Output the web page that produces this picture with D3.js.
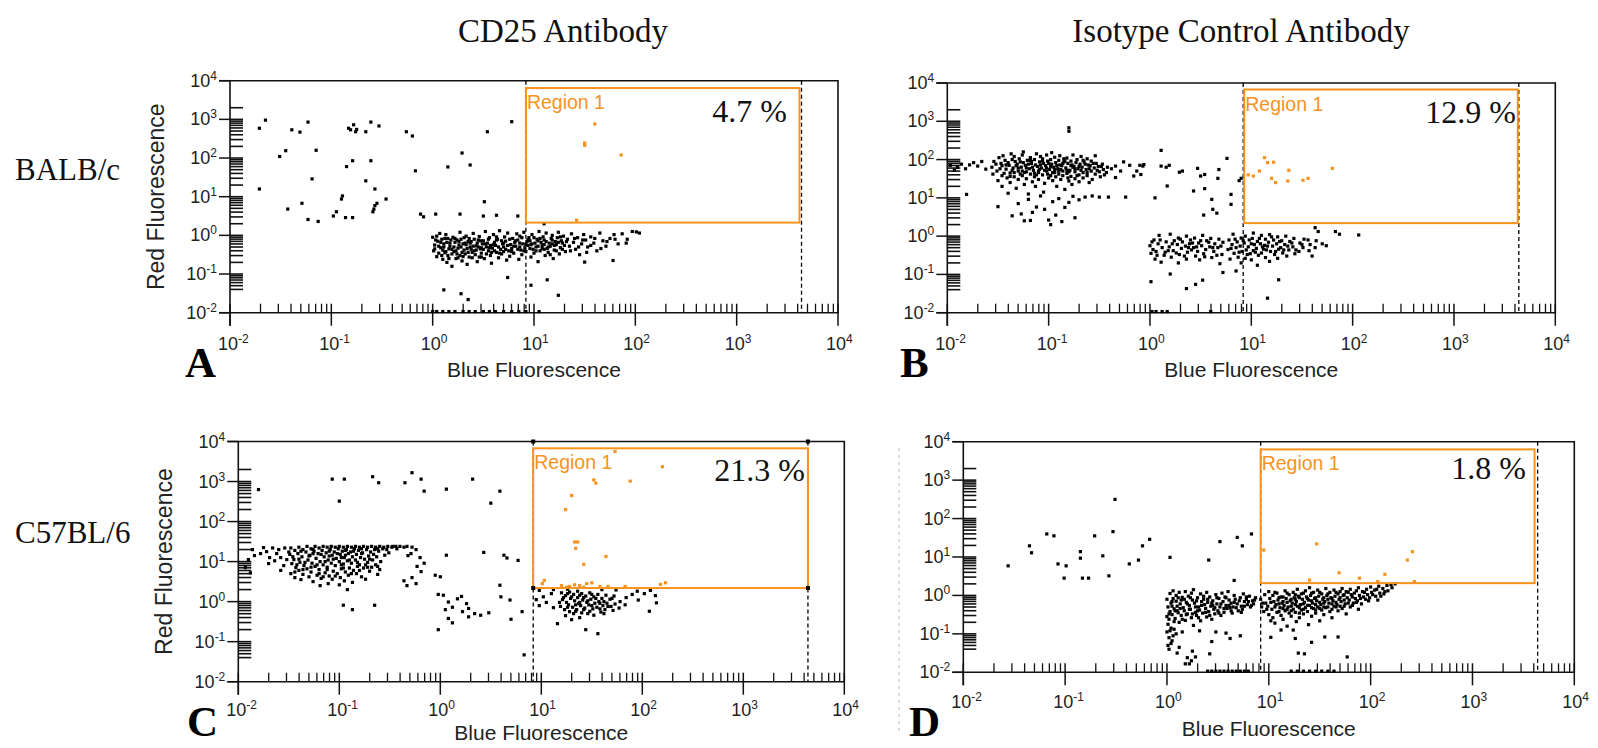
<!DOCTYPE html>
<html>
<head>
<meta charset="utf-8">
<title>CD25 vs isotype control - flow cytometry</title>
<script src="https://cdn.jsdelivr.net/npm/d3@7"></script>
<style>
  body { margin: 0; background: #fff; }
  svg { display: block; }
</style>
</head>
<body>
<svg id="chart" width="1598" height="748"></svg>
<script>
// ---- data -------------------------------------------------------------
// every event is [log10 blue, log10 red]
const strains = ["BALB/c", "C57BL/6"];
const antibodies = ["CD25 Antibody", "Isotype Control Antibody"];
const panelLetters = ["A", "B", "C", "D"];
const regionPercent = ["4.7 %", "12.9 %", "21.3 %", "1.8 %"];
const decades = [-2, -1, 0, 1, 2, 3, 4];
const markerBlue = [0.92, 3.64];              // dashed marker lines (log10 blue)
// Region 1: [blue min, blue max, red min, red max] in log10
const regions = [[0.92, 3.62, 0.33, 3.81], [0.93, 3.63, 0.34, 3.83],
                 [0.92, 3.64, 0.34, 3.83], [0.92, 3.61, 0.32, 3.80]];

const aScatter = [-1.71,2.77, -1.65,2.98, -1.51,2.04, -1.45,2.19, -1.39,2.73, -1.31,2.67, -1.23,2.93,
  -1.15,2.20, -1.19,1.46, -1.71,1.20, -1.43,0.68, -1.29,0.83, -1.23,0.41, -1.13,0.36, -0.98,0.50,
  -0.95,0.61, -0.90,0.94, -0.89,1.02, -0.86,0.46, -0.85,1.78, -0.79,1.93, -0.83,2.77, -0.81,2.73,
  -0.78,2.86, -0.76,2.68, -0.75,2.74, -0.66,2.68, -0.61,2.93, -0.53,2.83, -0.66,1.41, -0.61,1.93,
  -0.57,1.20, -0.46,0.94, -0.55,0.83, -0.59,0.61, -0.58,0.68, -0.57,0.77, -0.79,0.46,
  -0.26,2.68, -0.20,2.57, -0.17,1.67, 0.15,1.77, 0.29,2.13, 0.37,1.82, 0.54,2.68, 0.78,2.94,
  -0.12,0.55, -0.09,0.48, 0.03,0.55, 0.27,0.55, 0.51,0.87, 0.50,0.50, 0.63,0.52, 0.84,0.50, 1.10,0.30,
  0.11,-1.41, 0.28,-1.51, 0.35,-1.66, 0.97,-1.29, 1.24,-1.55, 1.13,-1.15, 0.74,-1.09, 1.78,-0.65,
  1.50,-0.69, 2.01,0.09, 1.91,-0.20,
  1.60,2.88, 1.50,2.39, 1.50,2.33, 1.86,2.08, 1.42,0.39];
const aCluster = [0.00,-0.05, 0.02,-0.25, 0.01,-0.40, 0.05,-0.15, 0.04,-0.55, 0.07,0.05, 0.08,-0.32,
  0.10,-0.62, 0.09,-0.10, 0.12,-0.45, 0.11,-0.22, 0.14,-0.70, 0.13,0.02, 0.16,-0.35, 0.15,-0.52,
  0.18,-0.12, 0.17,-0.28, 0.19,-0.80, 0.21,-0.42, 0.20,-0.05, 0.23,-0.60, 0.22,-0.18, 0.25,-0.33,
  0.24,-0.48, 0.27,0.08, 0.26,-0.25, 0.29,-0.66, 0.28,-0.10, 0.31,-0.38, 0.30,-0.55, 0.33,-0.02,
  0.32,-0.20, 0.35,-0.44, 0.34,-0.75, 0.37,-0.30, 0.36,-0.08, 0.39,-0.58, 0.38,-0.16, 0.41,-0.40,
  0.40,0.05, 0.43,-0.27, 0.42,-0.50, 0.45,-0.12, 0.44,-0.68, 0.47,-0.35, 0.46,-0.03, 0.49,-0.22,
  0.48,-0.46, 0.51,-0.60, 0.50,-0.14, 0.53,-0.30, 0.52,0.10, 0.55,-0.40, 0.54,-0.20, 0.57,-0.52,
  0.56,-0.06, 0.59,-0.33, 0.58,-0.72, 0.61,-0.18, 0.60,0.02, 0.63,-0.44, 0.62,-0.26, 0.65,-0.58,
  0.64,-0.10, 0.67,-0.36, 0.66,0.12, 0.69,-0.22, 0.68,-0.48, 0.71,-0.04, 0.70,-0.30, 0.73,-0.64,
  0.72,-0.15, 0.75,-0.40, 0.74,0.06, 0.77,-0.24, 0.76,-0.54, 0.79,-0.08, 0.78,-0.34, 0.81,-0.18,
  0.80,-0.46, 0.83,0.04, 0.82,-0.28, 0.85,-0.62, 0.84,-0.12, 0.87,-0.38, 0.86,-0.02, 0.89,-0.22,
  0.88,-0.50, 0.91,-0.32, 0.90,0.08, 0.93,-0.16, 0.92,-0.42, 0.95,-0.06, 0.94,-0.26, 0.97,-0.56,
  0.96,-0.14, 0.99,-0.36, 0.98,0.02, 1.01,-0.20, 1.00,-0.46, 1.03,-0.10, 1.02,-0.30, 1.05,0.10,
  1.04,-0.68, 1.07,-0.18, 1.06,-0.40, 1.09,-0.04, 1.08,-0.26, 1.11,-0.52, 1.10,-0.12, 1.13,-0.34,
  1.12,0.06, 1.15,-0.20, 1.14,-0.44, 1.17,-0.08, 1.16,-0.28, 1.19,-0.60, 1.18,0.00, 1.21,-0.16,
  1.20,-0.38, 1.23,-0.06, 1.22,-0.24, 1.25,-0.48, 1.24,0.08, 1.27,-0.14, 1.26,-0.32, 1.29,-0.02,
  1.28,-0.20, 1.31,-0.42, 1.33,-0.10, 1.35,-0.28, 1.37,0.04, 1.39,-0.18, 1.41,-0.36, 1.43,-0.06,
  1.45,-0.50, 1.47,-0.22, 1.49,0.02, 1.51,-0.12, 1.53,-0.30, 1.56,-0.04, 1.59,-0.20, 1.62,-0.40,
  1.65,0.06, 1.68,-0.14, 1.71,-0.28, 1.75,-0.08, 1.79,0.02, 1.83,-0.22, 1.87,0.04, 1.92,-0.10,
  1.97,0.10, 2.04,0.06,
  0.06,-0.28, 0.14,-0.18, 0.19,-0.36, 0.24,-0.12, 0.29,-0.44, 0.33,-0.24, 0.38,-0.36, 0.44,-0.20,
  0.48,-0.32, 0.03,-0.12, 0.10,-0.38, 0.27,-0.52, 0.35,-0.16, 0.57,-0.26, 0.63,-0.12, 0.70,-0.42,
  0.86,-0.30, 0.97,-0.24, 1.04,-0.14, 1.10,-0.36, 1.18,-0.22, 0.12,-0.08, 0.46,-0.56,
  0.00,-1.97, 0.04,-1.97, 0.10,-1.97, 0.16,-1.97, 0.22,-1.97, 0.30,-1.97, 0.36,-1.97, 0.42,-1.97,
  0.50,-1.97, 0.56,-1.97, 0.62,-1.97, 0.70,-1.97, 0.78,-1.97, 0.85,-1.97, 0.92,-1.97, 1.05,-1.97];
const aFill = [0.02,-0.35, 0.04,-0.02, 0.06,-0.46, 0.08,-0.18, 0.09,-0.52, 0.11,-0.30, 0.13,-0.42,
  0.15,-0.08, 0.16,-0.60, 0.17,-0.20, 0.19,-0.48, 0.21,-0.30, 0.22,-0.08, 0.23,-0.40, 0.25,-0.58,
  0.26,-0.16, 0.28,-0.30, 0.30,-0.22, 0.31,-0.06, 0.32,-0.48, 0.34,-0.34, 0.36,-0.56, 0.37,-0.20,
  0.39,-0.44, 0.40,-0.28, 0.41,-0.10, 0.43,-0.38, 0.45,-0.30, 0.47,-0.14, 0.48,-0.56, 0.50,-0.36,
  0.52,-0.22, 0.53,-0.48, 0.55,-0.10, 0.56,-0.32, 0.58,-0.44, 0.60,-0.24, 0.61,-0.40, 0.63,-0.04,
  0.65,-0.30, 0.66,-0.46, 0.68,-0.14, 0.70,-0.20, 0.72,-0.36, 0.74,-0.26, 0.76,-0.10, 0.78,-0.42,
  0.80,-0.28, 0.82,-0.14, 0.84,-0.36, 0.86,-0.20, 0.88,-0.06, 0.90,-0.40, 0.92,-0.24, 0.94,-0.12,
  0.96,-0.34, 0.98,-0.22, 1.00,-0.06, 1.02,-0.40, 1.04,-0.28, 1.06,-0.08, 1.08,-0.34, 1.10,-0.24,
  1.12,-0.16, 1.14,-0.30, 1.16,-0.50, 1.18,-0.12, 1.20,-0.26, 1.22,-0.40, 1.24,-0.18, 1.26,-0.04,
  1.28,-0.36, 1.30,-0.26, 1.32,-0.16, 1.36,-0.40, 1.40,-0.08, 1.44,-0.30, 1.48,-0.12, 1.52,-0.44,
  1.56,-0.26, 1.60,-0.08, 1.66,-0.34, 1.72,-0.16, 1.80,-0.10];

const bUpper = [-1.55,1.62, -1.56,1.80, -1.54,1.95, -1.50,1.45, -1.51,1.70, -1.49,2.05, -1.52,1.88,
  -1.46,1.58, -1.47,1.90, -1.45,2.10, -1.46,1.30, -1.42,1.75, -1.43,1.98, -1.41,1.52,
  -1.38,1.65, -1.39,1.85, -1.37,2.15, -1.38,1.40, -1.36,2.00, -1.34,1.55, -1.35,1.78, -1.33,1.95,
  -1.34,2.08, -1.32,1.25, -1.30,1.70, -1.31,1.88, -1.29,2.02, -1.30,1.48, -1.28,1.62,
  -1.26,1.58, -1.27,1.80, -1.25,1.92, -1.26,2.12, -1.24,1.35, -1.25,2.20, -1.22,1.68, -1.23,1.85,
  -1.21,1.98, -1.22,1.50, -1.20,1.10, -1.18,1.62, -1.19,1.76, -1.17,1.90, -1.18,2.05, -1.16,1.42,
  -1.17,1.95, -1.14,1.55, -1.15,1.72, -1.13,1.86, -1.14,2.00, -1.12,2.15, -1.13,1.30,
  -1.10,1.66, -1.11,1.82, -1.09,1.94, -1.10,1.48, -1.08,2.08, -1.09,1.75, -1.06,1.60, -1.07,1.78,
  -1.05,1.90, -1.06,2.02, -1.04,1.38, -1.05,1.15, -1.02,1.70, -1.03,1.84, -1.01,1.96, -1.02,2.12,
  -1.00,1.52, -1.01,1.62, -0.98,1.58, -0.99,1.74, -0.97,1.88, -0.98,2.00, -0.96,1.45, -0.97,2.18,
  -0.94,1.66, -0.95,1.80, -0.93,1.92, -0.94,2.06, -0.92,1.30, -0.93,1.55, -0.90,1.62, -0.91,1.76,
  -0.89,1.86, -0.90,1.98, -0.88,1.48, -0.89,2.10, -0.86,1.70, -0.87,1.84, -0.85,1.94, -0.86,1.58,
  -0.84,1.22, -0.85,2.02, -0.82,1.64, -0.83,1.78, -0.81,1.90, -0.82,2.04, -0.80,1.44, -0.81,1.52,
  -0.78,1.56, -0.79,1.72, -0.77,1.86, -0.78,1.96, -0.76,2.12, -0.77,1.35, -0.74,1.68, -0.75,1.82,
  -0.73,1.92, -0.74,1.50, -0.72,2.00, -0.70,1.60, -0.71,1.76, -0.69,1.88, -0.70,1.42, -0.68,2.08,
  -0.66,1.66, -0.67,1.80, -0.65,1.94, -0.66,1.52, -0.62,1.58, -0.63,1.74, -0.61,1.86, -0.62,2.02,
  -0.60,1.40, -0.58,1.70, -0.59,1.84, -0.57,1.48, -0.58,1.96, -0.54,1.62, -0.55,1.78, -0.53,1.90,
  -0.54,2.10, -0.50,1.68, -0.51,1.82, -0.49,1.55, -0.46,1.74, -0.47,1.88, -0.45,1.60, -0.42,1.80,
  -0.43,1.66,
  -1.97,1.85, -1.93,1.72, -1.90,1.80, -1.86,1.88, -1.82,1.76, -1.78,1.86, -1.74,1.92, -1.70,1.83,
  -1.66,1.95, -1.81,1.09, -1.62,1.75,
  -1.40,1.12, -1.30,0.85, -1.27,0.58, -1.20,0.96, -1.16,0.62, -1.12,0.76, -1.08,1.05, -1.04,0.70,
  -1.00,0.42, -0.96,0.90, -0.93,0.55, -0.90,0.98, -0.87,0.38, -0.84,0.75, -0.80,0.88, -0.76,1.04,
  -0.74,0.48, -0.70,0.95, -0.64,1.02, -0.57,1.05, -0.50,1.02, -1.50,0.77, -1.36,0.53, -1.18,0.41,
  -0.98,0.30, -1.24,0.40, -0.41,1.02, -0.24,1.02,
  -0.34,1.83, -0.29,1.70, -0.20,1.85, -0.10,1.85, -0.06,1.87, -0.16,1.57, -0.34,1.53, -0.38,1.76,
  -0.26,1.94, -0.13,1.70, -0.80,2.83, -0.80,2.74,
  0.05,1.00, 0.17,1.31, 0.43,1.18, 0.54,1.24, 0.61,0.96, 0.62,0.70, 0.66,0.60, 0.53,0.55, 0.80,1.09,
  0.80,0.83, 0.90,1.51, 0.76,2.03, 0.67,1.51, 0.29,1.67, -0.07,1.83, 0.16,1.80, -0.09,1.61,
  0.11,1.83, 0.19,1.85, 0.32,1.70, 0.47,1.77, 0.50,1.57, 0.54,1.61, 0.68,1.74, 0.11,2.24, 0.88,1.45,
  1.02,1.57, 1.08,1.70, 1.13,2.05, 1.16,1.92, 1.22,1.93, 1.20,1.51, 1.24,1.40, 1.36,1.44, 1.37,1.72,
  1.51,1.46, 1.56,1.51, 1.80,1.77, 0.97,1.60];
const bLower = [0.00,-0.25, 0.01,-0.45, 0.04,-0.10, 0.03,-0.35, 0.05,-0.60, 0.08,-0.20, 0.07,-0.50,
  0.09,0.02, 0.12,-0.30, 0.11,-0.68, 0.16,-0.15, 0.15,-0.42, 0.20,0.05, 0.19,-0.28, 0.21,-0.55,
  0.24,-0.12, 0.23,-0.38, 0.28,-0.05, 0.27,-0.22, 0.29,-0.48, 0.28,-0.70, 0.32,-0.15, 0.31,-0.32,
  0.36,0.00, 0.35,-0.26, 0.37,-0.42, 0.36,-0.60, 0.40,-0.10, 0.39,-0.20, 0.41,-0.36, 0.44,-0.05,
  0.43,-0.30, 0.45,-0.52, 0.48,-0.18, 0.47,-0.40, 0.49,-0.62, 0.52,0.02, 0.51,-0.25, 0.53,-0.46,
  0.56,-0.12, 0.55,-0.35, 0.60,-0.06, 0.59,-0.28, 0.61,-0.56, 0.64,-0.20, 0.63,-0.40, 0.68,-0.08,
  0.67,-0.30, 0.69,-0.72, 0.72,-0.16, 0.71,-0.48,
  0.78,-0.10, 0.77,-0.35, 0.79,-0.60, 0.82,0.05, 0.81,-0.22, 0.83,-0.45, 0.86,-0.15, 0.85,-0.30,
  0.87,-0.55, 0.90,-0.05, 0.89,-0.26, 0.91,-0.40, 0.90,-0.70, 0.94,0.00, 0.93,-0.18, 0.95,-0.36,
  0.94,-0.58, 0.98,-0.10, 0.97,-0.28, 0.99,-0.46, 1.02,0.08, 1.01,-0.06, 1.03,-0.22, 1.02,-0.38,
  1.00,-0.62, 1.06,-0.14, 1.05,-0.32, 1.07,-0.50, 1.06,-0.76, 1.10,0.02, 1.09,-0.20, 1.11,-0.28,
  1.10,-0.44, 1.14,-0.08, 1.13,-0.24, 1.15,-0.36, 1.14,-0.56, 1.18,0.04, 1.17,-0.16, 1.19,-0.40,
  1.18,-0.66, 1.22,-0.10, 1.21,-0.26, 1.23,-0.48, 1.26,-0.02, 1.25,-0.20, 1.27,-0.34, 1.26,-0.58,
  1.30,-0.12, 1.29,-0.30, 1.31,-0.44, 1.34,0.00, 1.33,-0.22, 1.35,-0.52, 1.38,-0.14, 1.37,-0.36,
  1.42,-0.06, 1.41,-0.28, 1.43,-0.46, 1.48,-0.18, 1.47,-0.40, 1.52,-0.08, 1.51,-0.30, 1.58,-0.22,
  1.57,-0.38, 1.64,-0.12, 1.63,-0.30, 1.70,-0.20,
  0.01,-1.19, 0.20,-0.99, 0.36,-1.37, 0.45,-1.26, 0.52,-1.15, 0.72,-0.95, 0.85,-0.91, 1.27,-1.14,
  1.16,-1.62, 1.60,-0.52, 1.63,0.22, 1.66,0.12, 1.83,0.12, 1.87,0.05, 2.06,0.03, 1.74,-0.25,
  0.02,-1.97, 0.06,-1.97, 0.12,-1.97, 0.17,-1.97, 0.60,-1.97];
const bFill = [-1.48,1.76, -1.44,1.64, -1.40,1.92, -1.36,1.72, -1.32,1.84, -1.28,1.94, -1.24,1.66,
  -1.20,1.88, -1.16,1.80, -1.12,1.60, -1.08,1.86, -1.04,1.72, -1.00,1.90, -0.96,1.66, -0.92,1.84,
  -0.88,1.74, -0.84,1.96, -0.80,1.68, -0.76,1.80, -0.72,1.58, -0.68,1.72, -0.64,1.88, -0.60,1.76,
  -0.56,1.90, -1.42,1.86, -1.34,1.66, -1.26,1.70, -1.18,1.98, -1.10,1.70, -1.02,1.78, -0.94,1.74,
  -0.86,1.90, -0.78,1.84, -0.70,1.82, -0.62,1.66, -1.22,1.78, -1.14,1.64, -1.06,1.96, -0.98,1.82,
  -0.90,1.70, -0.82,1.72, -0.74,1.76, -0.66,1.98, -1.30,1.78, -1.38,1.56, -1.46,1.84, -0.52,1.72,
  -0.48,1.82,
  0.02,-0.15, 0.06,-0.40, 0.10,-0.10, 0.14,-0.50, 0.18,-0.38, 0.22,-0.20, 0.26,-0.44, 0.30,-0.08,
  0.34,-0.52, 0.38,-0.30, 0.42,-0.18, 0.46,-0.28, 0.50,-0.12, 0.54,-0.54, 0.58,-0.16, 0.62,-0.30,
  0.66,-0.50, 0.70,-0.26, 0.80,-0.32, 0.84,-0.08, 0.88,-0.42, 0.92,-0.12, 0.96,-0.48, 1.00,-0.20,
  1.04,-0.42, 1.08,-0.06, 1.12,-0.34, 1.16,-0.26, 1.20,-0.02, 1.24,-0.40, 1.28,-0.14, 1.32,-0.36,
  1.36,-0.26, 1.40,-0.18, 1.44,-0.36, 1.50,-0.22, 1.56,-0.10];

const cUpper = [-1.80,2.80, -1.07,3.06, -0.95,3.06, -1.00,2.51, -0.67,3.12, -0.61,2.97, -0.35,2.97,
  -0.28,3.22, -0.19,3.06, -0.16,2.76, 0.06,2.81, 0.32,3.06, 0.50,2.46, 0.59,2.76,
  -1.78,1.20, -1.72,1.25, -1.69,1.10, -1.62,1.20, -1.58,0.78, -1.88,0.72, -1.93,0.85, -1.90,1.05,
  -1.52,1.05, -1.55,0.90,
  -1.48,1.34, -1.49,1.18, -1.47,0.95, -1.48,0.70, -1.44,1.28, -1.45,1.05, -1.43,0.85, -1.44,0.60,
  -1.40,1.36, -1.41,1.20, -1.39,0.98, -1.40,0.78, -1.38,0.55, -1.36,1.30, -1.37,1.12, -1.35,0.90,
  -1.36,0.68, -1.32,1.38, -1.33,1.24, -1.31,1.04, -1.32,0.82, -1.30,0.62, -1.28,1.32, -1.29,1.16,
  -1.27,0.96, -1.28,0.74, -1.26,0.50, -1.24,1.38, -1.25,1.26, -1.23,1.08, -1.24,0.88, -1.22,0.66,
  -1.20,1.34, -1.21,1.20, -1.19,1.00, -1.20,0.80, -1.18,0.58, -1.19,0.40, -1.16,1.38, -1.17,1.28,
  -1.15,1.12, -1.16,0.92, -1.14,0.72, -1.12,1.36, -1.13,1.22, -1.11,1.04, -1.12,0.86, -1.10,0.64,
  -1.11,0.45, -1.08,1.38, -1.09,1.30, -1.07,1.16, -1.08,0.96, -1.06,0.76, -1.07,0.56, -1.04,1.36,
  -1.05,1.24, -1.03,1.08, -1.04,0.90, -1.02,0.70, -1.00,1.38, -1.01,1.32, -0.99,1.18, -1.00,1.00,
  -0.98,0.82, -0.99,0.60, -1.00,0.42, -0.96,1.36, -0.97,1.26, -0.95,1.10, -0.96,0.94, -0.94,0.74,
  -0.95,0.52, -0.92,1.38, -0.93,1.30, -0.91,1.20, -0.92,1.02, -0.90,0.84, -0.91,0.66, -0.92,0.30,
  -0.88,1.36, -0.89,1.24, -0.87,1.12, -0.88,0.96, -0.86,0.78, -0.87,0.48, -0.84,1.38, -0.85,1.32,
  -0.83,1.18, -0.84,1.04, -0.82,0.88, -0.83,0.70, -0.80,1.36, -0.81,1.28, -0.79,1.10, -0.80,0.92,
  -0.78,0.62, -0.76,1.38, -0.77,1.22, -0.75,1.06, -0.76,0.84, -0.74,0.56, -0.72,1.36, -0.73,1.30,
  -0.71,1.14, -0.72,0.98, -0.70,0.76, -0.68,1.38, -0.69,1.24, -0.67,1.04, -0.68,0.86, -0.64,1.36,
  -0.65,1.30, -0.63,1.12, -0.64,0.92, -0.62,0.68, -0.60,1.38, -0.61,1.26, -0.59,1.00, -0.60,0.80,
  -0.56,1.36, -0.57,1.32, -0.55,1.16, -0.52,1.38, -0.53,1.30, -0.51,1.22, -0.48,1.36, -0.47,1.38,
  -0.44,1.38, -0.43,1.32, -0.40,1.38, -0.36,1.36, -0.36,0.52, -0.33,1.38, -0.32,1.15, -0.33,0.40,
  -0.28,1.36, -0.29,1.20, -0.28,0.60, -0.24,1.30, -0.23,0.88, -0.24,0.45, -0.20,1.10, -0.19,0.75,
  -0.16,0.96];
const cLower = [-0.96,-0.09, -0.87,-0.20, -0.65,-0.09, 0.06,1.16, 0.43,1.23, 0.63,1.16, 0.66,1.09,
  0.77,1.03, -0.05,0.66, 0.00,0.62, 0.59,0.41, 0.60,0.12, 0.69,0.04, 0.83,-1.33, -0.02,0.18,
  0.03,0.16, 0.08,-0.01, 0.12,-0.14, 0.17,0.07, 0.21,0.13, 0.26,-0.05, 0.28,-0.17, 0.28,-0.38,
  0.08,-0.42, 0.12,-0.53, -0.02,-0.70, 0.34,-0.30, 0.40,-0.34, 0.48,-0.28, 0.70,-0.44, 0.81,-0.25,
  0.05,-0.20, 0.22,-0.25,
  0.95,0.05, 0.98,-0.10, 1.02,0.12, 1.05,-0.02, 1.10,0.20, 1.12,-0.15, 1.16,-0.55,
  1.20,0.22, 1.21,0.05, 1.19,-0.12, 1.24,0.15, 1.25,-0.02, 1.23,-0.20, 1.24,-0.35, 1.28,0.24,
  1.29,0.08, 1.27,-0.08, 1.28,-0.25, 1.32,0.18, 1.33,0.02, 1.31,-0.14, 1.32,-0.30, 1.30,-0.45,
  1.36,0.10, 1.37,-0.05, 1.35,-0.20, 1.36,0.26, 1.40,0.20, 1.41,0.04, 1.39,-0.10, 1.40,-0.28,
  1.38,-0.40, 1.44,0.14, 1.45,-0.02, 1.43,-0.16, 1.44,-0.70, 1.48,0.22, 1.49,0.06, 1.47,-0.08,
  1.48,-0.24, 1.52,0.12, 1.53,-0.04, 1.51,-0.18, 1.52,-0.34, 1.56,0.18, 1.57,0.00, 1.55,-0.14,
  1.56,-0.80, 1.60,0.08, 1.61,-0.10, 1.59,-0.26, 1.64,0.16, 1.65,-0.04, 1.63,-0.20, 1.68,0.06,
  1.69,-0.12, 1.72,0.14, 1.73,-0.06, 1.71,-0.22, 1.78,0.00, 1.77,-0.16, 1.84,0.10, 1.83,-0.08,
  1.90,0.18, 1.96,0.04, 2.02,0.20, 2.07,-0.24, 2.14,-0.03, 2.13,0.15, 1.95,0.26, 2.08,0.28,
  0.98,0.28, 1.12,0.30, 1.26,0.31, 1.60,0.30, 1.74,0.29,
  1.73,3.75, 2.20,3.37, 1.52,3.04, 1.54,2.96, 1.88,3.01, 1.30,2.65, 1.24,2.30, 1.33,1.49, 1.36,1.49,
  1.34,1.33, 1.64,1.13, 1.42,0.93, 1.01,0.45, 1.03,0.53, 1.20,0.40, 1.28,0.38, 1.33,0.42, 1.38,0.40,
  1.45,0.45, 1.50,0.47, 1.58,0.38, 1.66,0.38, 1.83,0.38, 2.18,0.43, 2.23,0.47, 1.25,0.36, 1.42,0.36];
const cFill = [-1.46,1.12, -1.42,0.92, -1.38,1.26, -1.34,0.98, -1.30,1.14, -1.26,1.30, -1.22,0.92,
  -1.18,1.18, -1.14,1.00, -1.10,1.26, -1.06,1.06, -1.02,1.20, -0.98,0.92, -0.94,1.16, -0.90,1.04,
  -0.86,1.26, -0.82,0.98, -0.78,1.20, -0.74,0.92, -0.70,1.06, -0.66,1.18, -0.62,0.88, -1.44,0.74,
  -1.36,0.80, -1.28,0.86, -1.20,0.70, -1.12,0.80, -1.04,0.64, -0.96,0.84, -0.88,0.70, -0.80,0.78,
  -0.72,0.86, -1.50,1.24, -1.54,1.34, -1.60,1.30, -1.66,1.34, -1.58,1.10, -1.64,1.02, -1.70,0.95,
  -1.75,1.35, -1.84,1.15, -1.86,1.30, -1.26,1.20, -1.10,1.14, -0.94,1.28, -0.78,1.32, -0.62,1.32,
  -1.40,1.06, -1.16,0.62, -0.98,1.10,
  1.22,0.10, 1.26,-0.14, 1.30,0.12, 1.34,-0.08, 1.38,0.16, 1.42,-0.20, 1.46,0.02, 1.50,-0.10,
  1.54,0.08, 1.58,-0.18, 1.62,0.00, 1.66,-0.12, 1.70,0.08, 1.26,0.20, 1.34,-0.24, 1.42,0.10,
  1.50,0.18, 1.58,-0.04, 1.18,-0.02, 1.46,-0.30, 1.62,-0.30, 1.38,-0.02];

const dScatter = [-1.56,0.77, -1.35,1.29, -1.33,1.11, -1.18,1.60, -1.11,1.55, -1.07,0.82, -0.99,0.77,
  -1.01,0.45, -0.85,1.14, -0.85,0.97, -0.83,0.45, -0.77,0.45, -0.71,1.55, -0.63,1.03, -0.57,0.51,
  -0.53,1.66, -0.51,2.50, -0.37,0.82, -0.28,0.92, -0.24,1.29, -0.17,1.46, 0.03,0.99, 0.41,0.92,
  0.52,1.40, 0.69,1.51, 0.74,1.29, 0.83,1.60, 0.66,0.39,
  0.95,1.18, 1.47,1.34, 1.69,0.59, 1.89,0.45, 2.14,0.55, 2.36,0.92, 2.41,1.14, 1.40,0.40, 2.43,0.36,
  2.07,0.36,
  0.00,-0.95, 0.02,-1.10, 0.04,-1.25, 0.02,-1.40, 0.06,-1.05, 0.10,-1.50, 0.20,-1.62, 0.22,-1.78,
  0.18,-1.78, 0.25,-1.45, 0.44,-1.20, 0.48,-0.95, 0.58,-0.98, 0.62,-1.12, 0.72,-1.05, 0.42,-1.52,
  1.02,-1.09, 1.12,-0.90, 1.26,-1.12, 1.29,-1.50, 1.35,-1.52, 1.42,-1.22, 1.55,-1.08, 1.68,-1.08,
  1.77,-1.60, 1.24,-0.90, 0.32,-0.92,
  0.03,-0.92, 0.05,-1.18, 0.01,-1.30, 0.07,-0.88, 0.09,-1.00, 0.12,-1.35, 0.15,-0.95, 0.28,-1.60,
  0.24,-1.70,
  0.40,-1.97, 0.44,-1.97, 0.48,-1.97, 0.52,-1.97, 0.56,-1.97, 0.60,-1.97, 0.64,-1.97, 0.68,-1.97,
  0.72,-1.97, 0.76,-1.97, 0.80,-1.97, 1.22,-1.97, 1.28,-1.97, 1.34,-1.97, 1.40,-1.97, 1.46,-1.97,
  1.52,-1.97, 1.58,-1.97, 1.64,-1.97];
const dCluster = [0.00,-0.10, 0.01,-0.30, 0.00,-0.55, 0.01,-0.75, 0.03,0.05, 0.04,-0.20, 0.03,-0.42,
  0.02,-0.62, 0.04,-0.85, 0.06,-0.08, 0.07,-0.35, 0.05,-0.50, 0.06,0.12, 0.09,-0.15, 0.10,-0.28,
  0.08,-0.60, 0.09,0.00, 0.12,0.08, 0.13,-0.22, 0.11,-0.45, 0.12,-0.70, 0.15,-0.05, 0.16,-0.32,
  0.14,-0.52, 0.18,0.10, 0.19,-0.18, 0.17,-0.40, 0.18,-0.65, 0.21,-0.02, 0.22,-0.26, 0.20,-0.48,
  0.24,0.06, 0.25,-0.12, 0.23,-0.36, 0.24,-0.58, 0.26,-0.78, 0.27,-0.20, 0.28,-0.44, 0.26,0.15,
  0.30,-0.06, 0.31,-0.30, 0.29,-0.52, 0.33,0.04, 0.34,-0.16, 0.32,-0.38, 0.33,-0.66, 0.36,-0.10,
  0.37,-0.24, 0.35,-0.46, 0.39,0.08, 0.40,-0.18, 0.38,-0.34, 0.39,-0.56, 0.42,-0.04, 0.43,-0.28,
  0.41,-0.42, 0.45,-0.14, 0.46,-0.36, 0.44,-0.62, 0.48,0.02, 0.49,-0.22, 0.47,-0.48, 0.51,-0.08,
  0.52,-0.30, 0.50,-0.40, 0.54,0.06, 0.55,-0.16, 0.53,-0.52, 0.57,-0.04, 0.58,-0.26, 0.56,-0.44,
  0.60,0.10, 0.61,-0.12, 0.59,-0.34, 0.63,-0.20, 0.64,-0.46, 0.66,0.00, 0.67,-0.10, 0.65,-0.30,
  0.69,-0.22, 0.70,-0.40, 0.72,-0.06, 0.73,-0.28, 0.75,0.04, 0.76,-0.16, 0.74,-0.36, 0.78,-0.10,
  0.79,-0.24, 0.81,-0.02, 0.82,-0.30, 0.84,-0.14, 0.85,-0.22, 0.87,-0.06,
  0.92,-0.10, 0.93,-0.30, 0.96,0.02, 0.97,-0.20, 0.95,-0.42, 1.00,0.10, 1.01,-0.08, 0.99,-0.28,
  1.00,-0.50, 1.02,-0.66, 1.04,0.00, 1.05,-0.16, 1.03,-0.36, 1.04,-0.58, 1.08,0.06, 1.09,-0.12,
  1.07,-0.24, 1.08,-0.44, 1.06,-0.72, 1.12,-0.04, 1.13,-0.20, 1.11,-0.32, 1.12,-0.52, 1.16,0.12,
  1.17,-0.08, 1.15,-0.26, 1.16,-0.40, 1.14,-0.62, 1.20,0.02, 1.21,-0.14, 1.19,-0.30, 1.20,-0.46,
  1.18,-0.80, 1.24,0.08, 1.25,-0.06, 1.23,-0.20, 1.24,-0.36, 1.22,-0.54, 1.28,0.16, 1.29,-0.02,
  1.27,-0.16, 1.28,-0.28, 1.26,-0.44, 1.27,-0.68, 1.32,0.04, 1.33,-0.10, 1.31,-0.24, 1.32,-0.38,
  1.30,-0.58, 1.36,0.12, 1.37,-0.04, 1.35,-0.18, 1.36,-0.32, 1.34,-0.48, 1.40,0.20, 1.41,0.00,
  1.39,-0.12, 1.40,-0.26, 1.38,-0.42, 1.39,-0.76, 1.44,0.08, 1.45,-0.08, 1.43,-0.20, 1.44,-0.34,
  1.42,-0.54, 1.48,0.14, 1.49,-0.02, 1.47,-0.14, 1.48,-0.30, 1.46,-0.46, 1.52,0.04, 1.53,-0.10,
  1.51,-0.24, 1.52,-0.38, 1.50,-0.66, 1.56,0.18, 1.57,0.00, 1.55,-0.16, 1.56,-0.32, 1.54,-0.50,
  1.60,0.08, 1.61,-0.06, 1.59,-0.20, 1.60,-0.42, 1.64,0.14, 1.65,-0.02, 1.63,-0.14, 1.64,-0.28,
  1.62,-0.58, 1.68,0.04, 1.69,-0.10, 1.67,-0.24, 1.68,-0.40, 1.72,0.18, 1.73,0.00, 1.71,-0.16,
  1.72,-0.34, 1.76,0.10, 1.77,-0.06, 1.75,-0.22, 1.76,-0.48, 1.80,0.16, 1.81,0.02, 1.79,-0.12,
  1.80,-0.30, 1.84,0.06, 1.85,-0.08, 1.83,-0.20, 1.88,0.20, 1.89,0.00, 1.87,-0.14, 1.88,-0.36,
  1.92,0.10, 1.93,-0.04, 1.91,-0.22, 1.96,0.16, 1.97,0.02, 1.95,-0.10, 2.00,0.22, 2.01,0.08,
  1.99,-0.06, 2.04,0.14, 2.05,-0.02, 2.08,0.24, 2.09,0.06, 2.07,-0.12, 2.12,0.18, 2.13,0.04,
  2.16,0.26, 2.17,0.12, 2.20,0.28, 2.21,0.20, 2.24,0.30,
  1.10,-0.06, 1.18,-0.36, 1.26,-0.10, 1.30,-0.32, 1.34,-0.22, 1.42,-0.14, 1.46,-0.38, 1.50,-0.18,
  1.54,-0.30, 1.58,-0.10, 1.62,-0.36, 1.66,-0.18, 1.70,-0.28, 1.74,-0.12, 1.14,-0.16, 1.22,-0.28,
  0.10,-0.40, 0.20,-0.22, 0.30,-0.40, 0.14,-0.12, 0.05,-0.28, 0.45,-0.26, 0.62,-0.32];
const dFill = [0.02,-0.48, 0.05,-0.16, 0.07,-0.68, 0.08,-0.40, 0.11,-0.06, 0.13,-0.34, 0.15,-0.62,
  0.17,-0.10, 0.19,-0.50, 0.22,-0.36, 0.23,-0.06, 0.25,-0.48, 0.28,-0.30, 0.29,-0.14, 0.31,-0.58,
  0.34,-0.26, 0.36,-0.02, 0.38,-0.44, 0.40,-0.10, 0.42,-0.52, 0.44,-0.20, 0.47,-0.32, 0.49,-0.06,
  0.51,-0.46, 0.53,-0.22, 0.56,-0.34, 0.58,-0.06, 0.61,-0.26, 0.63,-0.40, 0.66,-0.18, 0.68,-0.32,
  0.71,-0.14, 0.73,-0.44, 0.76,-0.28, 0.78,-0.04, 0.80,-0.16, 0.83,-0.26, 0.86,-0.12,
  0.94,-0.20, 0.98,-0.36, 1.02,-0.18, 1.06,-0.30, 1.06,0.08, 1.10,-0.22, 1.10,-0.42, 1.14,-0.04,
  1.14,-0.34, 1.18,-0.18, 1.18,0.06, 1.22,-0.10, 1.22,-0.40, 1.26,-0.24, 1.26,0.02, 1.30,-0.06,
  1.30,-0.46, 1.34,0.06, 1.34,-0.36, 1.38,-0.26, 1.38,-0.08, 1.42,-0.32, 1.42,0.06, 1.46,-0.06,
  1.46,-0.24, 1.50,0.08, 1.50,-0.34, 1.54,-0.06, 1.54,-0.20, 1.58,0.04, 1.58,-0.30, 1.62,-0.08,
  1.62,-0.22, 1.66,0.08, 1.66,-0.30, 1.70,-0.06, 1.70,0.10, 1.74,-0.28, 1.74,0.02, 1.78,-0.20,
  1.78,0.08, 1.82,-0.04, 1.82,-0.26, 1.86,0.12, 1.86,-0.18, 1.90,-0.08, 1.94,0.08, 1.98,-0.14,
  2.02,0.02, 2.06,0.16, 2.10,-0.02, 2.14,0.10];

// ---- layout -------------------------------------------------------------
const ORANGE = "#f7921e";
const AXIS = "#111";
const SANS = "'Liberation Sans', Arial, sans-serif";
const SERIF = "'Liberation Serif', 'Times New Roman', serif";

const frames = [
  {x0: 230,   x1: 838,    yb: 312.7, yt: 80.7,  yTitle: true,  xTitleY: 377, tickDy: 37, letter: [185, 377], pct: [787, 122]},
  {x0: 947.3, x1: 1555.3, yb: 312.7, yt: 83,    yTitle: false, xTitleY: 377, tickDy: 37, letter: [900, 377], pct: [1516, 123]},
  {x0: 238.3, x1: 844.3,  yb: 681.7, yt: 441.5, yTitle: true,  xTitleY: 740, tickDy: 34, letter: [187, 736], pct: [805, 481], handles: true},
  {x0: 963.3, x1: 1574.3, yb: 672.3, yt: 441.7, yTitle: false, xTitleY: 736, tickDy: 36, letter: [909, 736], pct: [1526, 479]}
];
const panelEvents = [
  aScatter.concat(aCluster, aFill),
  bUpper.concat(bLower, bFill),
  cUpper.concat(cLower, cFill),
  dScatter.concat(dCluster, dFill)
];

function pairs(flat) {
  const out = [];
  for (let i = 0; i < flat.length; i += 2) out.push([flat[i], flat[i + 1]]);
  return out;
}

const svg = d3.select("#chart");

// column and row headings
svg.selectAll("text.col").data(antibodies).enter().append("text")
  .attr("x", (d, i) => [563, 1241][i]).attr("y", 42)
  .attr("text-anchor", "middle").attr("font-family", SERIF).attr("font-size", 33).attr("fill", "#111")
  .text(d => d);
svg.selectAll("text.row").data(strains).enter().append("text")
  .attr("x", 15).attr("y", (d, i) => [180, 543][i])
  .attr("font-family", SERIF).attr("font-size", 31).attr("fill", "#111")
  .text(d => d);

function powerLabel(sel) {
  sel.text("10");
  sel.append("tspan").attr("dy", -7).attr("font-size", 12).text(d => d);
}

frames.forEach((f, i) => {
  const g = svg.append("g");
  const x = d3.scaleLog().domain([1e-2, 1e4]).range([f.x0, f.x1]);
  const y = d3.scaleLog().domain([1e-2, 1e4]).range([f.yb, f.yt]);
  const gate = regions[i];
  const minor = [];
  for (let d = -2; d < 4; d++) for (let k = 2; k < 10; k++) minor.push(k * Math.pow(10, d));
  const yBars = [];
  for (let d = -2; d < 4; d++) for (let k = 1; k < 10; k++) {
    const v = k * Math.pow(10, d);
    if (v >= 0.04 && v <= 2000) yBars.push(v);
  }

  // frame
  g.append("path")
    .attr("d", `M${f.x0},${f.yt}H${f.x1}V${f.yb}H${f.x0 - 11}M${f.x0},${f.yt}V${f.yb + 13}M${f.x0 - 11},${f.yt}H${f.x0}`)
    .attr("fill", "none").attr("stroke", AXIS).attr("stroke-width", 1.6);

  // x ticks
  g.selectAll("line.xm").data(minor).enter().append("line")
    .attr("x1", d => x(d)).attr("x2", d => x(d)).attr("y1", f.yb).attr("y2", f.yb - 9)
    .attr("stroke", AXIS).attr("stroke-width", 1.3);
  g.selectAll("line.xM").data(decades).enter().append("line")
    .attr("x1", d => x(Math.pow(10, d))).attr("x2", d => x(Math.pow(10, d)))
    .attr("y1", f.yb - 9).attr("y2", f.yb + 13)
    .attr("stroke", AXIS).attr("stroke-width", 1.5);
  g.selectAll("text.xl").data(decades).enter().append("text")
    .attr("x", d => x(Math.pow(10, d)) - 12).attr("y", f.yb + f.tickDy)
    .attr("font-family", SANS).attr("font-size", 18).attr("fill", "#222")
    .call(powerLabel);

  // y ticks
  g.selectAll("line.yb").data(yBars).enter().append("line")
    .attr("x1", f.x0).attr("x2", f.x0 + 13).attr("y1", d => y(d)).attr("y2", d => y(d))
    .attr("stroke", AXIS).attr("stroke-width", 1.6);
  g.selectAll("line.yM").data(decades).enter().append("line")
    .attr("x1", f.x0 - 11).attr("x2", f.x0)
    .attr("y1", d => y(Math.pow(10, d))).attr("y2", d => y(Math.pow(10, d)))
    .attr("stroke", AXIS).attr("stroke-width", 1.5);
  g.selectAll("text.yl").data(decades).enter().append("text")
    .attr("x", f.x0 - 13).attr("y", d => y(Math.pow(10, d)) + 6)
    .attr("text-anchor", "end")
    .attr("font-family", SANS).attr("font-size", 18).attr("fill", "#222")
    .call(powerLabel);

  // marker lines
  g.selectAll("line.mk").data(markerBlue).enter().append("line")
    .attr("x1", d => x(Math.pow(10, d))).attr("x2", d => x(Math.pow(10, d)))
    .attr("y1", f.yt).attr("y2", f.yb)
    .attr("stroke", "#000").attr("stroke-width", 1.3).attr("stroke-dasharray", "4,3");

  // events
  const ev = pairs(panelEvents[i]);
  const inGate = p => p[0] >= gate[0] && p[0] <= gate[1] && p[1] >= gate[2] && p[1] <= gate[3];
  g.selectAll("rect.ev").data(ev).enter().append("rect")
    .attr("x", p => x(Math.pow(10, p[0])) - 1.6)
    .attr("y", p => y(Math.pow(10, p[1])) - 1.6)
    .attr("width", 3.2).attr("height", 3.2)
    .attr("fill", p => inGate(p) ? ORANGE : "#000");

  // Region 1
  const gx0 = x(Math.pow(10, gate[0])), gx1 = x(Math.pow(10, gate[1]));
  const gy0 = y(Math.pow(10, gate[3])), gy1 = y(Math.pow(10, gate[2]));
  g.append("rect").attr("x", gx0).attr("y", gy0).attr("width", gx1 - gx0).attr("height", gy1 - gy0)
    .attr("fill", "none").attr("stroke", ORANGE).attr("stroke-width", 2);
  g.append("text").attr("x", gx0 + 1).attr("y", gy0 + 21)
    .attr("font-family", SANS).attr("font-size", 19.5).attr("fill", ORANGE)
    .text("Region 1");
  if (f.handles) {
    const hx = markerBlue.map(d => x(Math.pow(10, d)));
    [[hx[0], f.yt], [hx[1], f.yt], [hx[0], gy1], [hx[1], gy1]].forEach(h => {
      g.append("rect").attr("x", h[0] - 2).attr("y", h[1] - 2).attr("width", 4).attr("height", 4).attr("fill", "#000");
    });
  }

  g.append("text").attr("x", f.pct[0]).attr("y", f.pct[1])
    .attr("text-anchor", "end").attr("font-family", SERIF).attr("font-size", 32).attr("fill", "#111")
    .text(regionPercent[i]);

  // titles
  g.append("text").attr("x", (f.x0 + f.x1) / 2).attr("y", f.xTitleY)
    .attr("text-anchor", "middle").attr("font-family", SANS).attr("font-size", 21).attr("fill", "#222")
    .text("Blue Fluorescence");
  if (f.yTitle) {
    g.append("text")
      .attr("transform", `translate(${f.x0 - 66},${(f.yt + f.yb) / 2}) rotate(-90)`)
      .attr("text-anchor", "middle").attr("font-family", SANS).attr("font-size", 23).attr("fill", "#222")
      .text("Red Fluorescence");
  }
  g.append("text").attr("x", f.letter[0]).attr("y", f.letter[1])
    .attr("font-family", SERIF).attr("font-weight", "bold").attr("font-size", 43).attr("fill", "#000")
    .text(panelLetters[i]);
});

// faint scan edge left of panel D
svg.append("line").attr("x1", 899).attr("x2", 899).attr("y1", 448).attr("y2", 732)
  .attr("stroke", "#bbb").attr("stroke-width", 1).attr("stroke-dasharray", "3,4");
</script>
</body>
</html>
